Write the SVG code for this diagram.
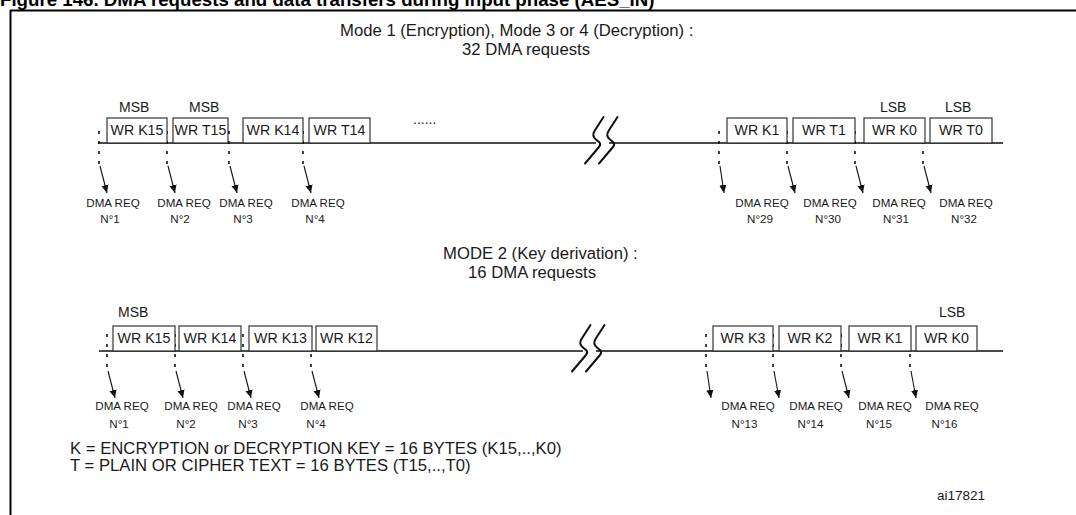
<svg xmlns="http://www.w3.org/2000/svg" width="1076" height="515" viewBox="0 0 1076 515">
<defs>
<style>
text{font-family:"Liberation Sans",Arial,sans-serif;fill:#1a1a1a}
.title{font-size:18.7px;font-weight:bold;fill:#000}
.hdr{font-size:16.7px}
.box rect{fill:#fff;stroke:#222;stroke-width:1.1}
.box text{font-size:14.2px;text-anchor:middle}
.sb{font-size:14px}
.req{font-size:11.6px;text-anchor:middle}
.axis{stroke:#111;stroke-width:1.4;fill:none}
.brk{stroke:#111;stroke-width:2;fill:none;stroke-linecap:round}
.dash{stroke:#111;stroke-width:1.6;stroke-dasharray:3 7}
.arr{stroke:#111;stroke-width:1.1;marker-end:url(#ah)}
</style>
<marker id="ah" viewBox="0 0 10 10" refX="10" refY="5" markerWidth="8" markerHeight="8" markerUnits="userSpaceOnUse" orient="auto">
<path d="M0,0.5 L10,5 L0,9.5 z" fill="#111"/>
</marker>
</defs>
<rect width="1076" height="515" fill="#fff"/>
<text class="title" x="0" y="6">Figure 146. DMA requests and data transfers during input phase (AES_IN)</text>
<path d="M10,10.5 H1076 M10.5,10 V515" stroke="#000" stroke-width="2" fill="none"/>

<g id="header1">
<text class="hdr" x="340" y="36">Mode 1 (Encryption), Mode 3 or 4 (Decryption) :</text>
<text class="hdr" x="462" y="55">32 DMA requests</text>
</g>
<g id="header2">
<text class="hdr" x="443" y="259">MODE 2 (Key derivation) :</text>
<text class="hdr" x="468" y="278">16 DMA requests</text>
</g>

<g id="labels-top">
<text class="sb" x="119" y="112">MSB</text>
<text class="sb" x="189" y="112">MSB</text>
<text class="sb" x="880" y="112">LSB</text>
<text class="sb" x="945" y="112">LSB</text>
<text class="sb" x="413" y="124">......</text>
</g>
<g id="labels-bottom">
<text class="sb" x="118" y="317">MSB</text>
<text class="sb" x="939" y="317">LSB</text>
</g>

<g id="connectors">
<path class="axis" d="M98,143 H596 M609,143 H1003"/>
<path class="brk" d="M603.5,117 L594.5,131 Q591.5,136 596,139.5 L599.5,142.5 Q601,144.5 599,147 L585,163.5"/>
<path class="brk" d="M617.5,117 L608.5,131 Q605.5,136 610,139.5 L613.5,142.5 Q615,144.5 613,147 L599,163.5"/>
<path class="axis" d="M99,351 H583 M596,351 H1003"/>
<path class="brk" d="M590.5,325 L581.5,339 Q578.5,344 583,347.5 L586.5,350.5 Q588,352.5 586,355 L572,371.5"/>
<path class="brk" d="M604.5,325 L595.5,339 Q592.5,344 597,347.5 L600.5,350.5 Q602,352.5 600,355 L586,371.5"/>
<g id="dashes-top">
<path class="dash" d="M99,131 V166 M167,131 V166 M229,131 V166 M303,131 V166 M719,131 V166 M787,131 V166 M855,131 V166 M923,131 V166"/>
</g>
<g id="arrows-top">
<line class="arr" x1="100" y1="166" x2="107" y2="193"/>
<line class="arr" x1="168" y1="166" x2="175" y2="193"/>
<line class="arr" x1="230" y1="166" x2="237" y2="193"/>
<line class="arr" x1="304" y1="166" x2="311" y2="193"/>
<line class="arr" x1="720" y1="166" x2="724" y2="193"/>
<line class="arr" x1="788" y1="166" x2="795" y2="193"/>
<line class="arr" x1="856" y1="166" x2="863" y2="193"/>
<line class="arr" x1="924" y1="166" x2="931" y2="193"/>
</g>
<g id="dashes-bottom">
<path class="dash" d="M107,334 V371 M175,334 V371 M243,334 V371 M311,334 V371 M706,334 V371 M773,334 V371 M841,334 V371 M910,334 V371"/>
</g>
<g id="arrows-bottom">
<line class="arr" x1="108" y1="371" x2="115" y2="398"/>
<line class="arr" x1="176" y1="371" x2="183" y2="398"/>
<line class="arr" x1="244" y1="371" x2="251" y2="398"/>
<line class="arr" x1="312" y1="371" x2="319" y2="398"/>
<line class="arr" x1="707" y1="371" x2="711" y2="398"/>
<line class="arr" x1="774" y1="371" x2="779" y2="398"/>
<line class="arr" x1="842" y1="371" x2="849" y2="398"/>
<line class="arr" x1="911" y1="371" x2="916" y2="398"/>
</g>
</g>

<g id="top-boxes">
<g id="t-k15" class="box"><rect x="107" y="118" width="60" height="25"/><text x="137" y="135">WR K15</text></g>
<g id="t-t15" class="box"><rect x="173" y="118" width="55" height="25"/><text x="200.5" y="135">WR T15</text></g>
<g id="t-k14" class="box"><rect x="243" y="118" width="60" height="25"/><text x="273" y="135">WR K14</text></g>
<g id="t-t14" class="box"><rect x="309" y="118" width="61" height="25"/><text x="339.5" y="135">WR T14</text></g>
<g id="t-k1" class="box"><rect x="727" y="118" width="60" height="25"/><text x="757" y="135">WR K1</text></g>
<g id="t-t1" class="box"><rect x="793" y="118" width="62" height="25"/><text x="824" y="135">WR T1</text></g>
<g id="t-k0" class="box"><rect x="864" y="118" width="61" height="25"/><text x="894.5" y="135">WR K0</text></g>
<g id="t-t0" class="box"><rect x="930" y="118" width="62" height="25"/><text x="961" y="135">WR T0</text></g>
</g>

<g id="bottom-boxes">
<g id="b-k15" class="box"><rect x="113" y="326" width="62" height="25"/><text x="144" y="343">WR K15</text></g>
<g id="b-k14" class="box"><rect x="179" y="326" width="62" height="25"/><text x="210" y="343">WR K14</text></g>
<g id="b-k13" class="box"><rect x="249" y="326" width="63" height="25"/><text x="280.5" y="343">WR K13</text></g>
<g id="b-k12" class="box"><rect x="316" y="326" width="61" height="25"/><text x="346.5" y="343">WR K12</text></g>
<g id="b-k3" class="box"><rect x="713" y="326" width="60" height="25"/><text x="743" y="343">WR K3</text></g>
<g id="b-k2" class="box"><rect x="779" y="326" width="62" height="25"/><text x="810" y="343">WR K2</text></g>
<g id="b-k1" class="box"><rect x="849" y="326" width="62" height="25"/><text x="880" y="343">WR K1</text></g>
<g id="b-k0" class="box"><rect x="916" y="326" width="61" height="25"/><text x="946.5" y="343">WR K0</text></g>
</g>

<g id="req-top">
<g id="rq1"><text class="req" x="113" y="207">DMA REQ</text><text class="req" x="110" y="223">N°1</text></g>
<g id="rq2"><text class="req" x="184" y="207">DMA REQ</text><text class="req" x="180" y="223">N°2</text></g>
<g id="rq3"><text class="req" x="246" y="207">DMA REQ</text><text class="req" x="243" y="223">N°3</text></g>
<g id="rq4"><text class="req" x="318" y="207">DMA REQ</text><text class="req" x="315" y="223">N°4</text></g>
<g id="rq29"><text class="req" x="762" y="207">DMA REQ</text><text class="req" x="760" y="223">N°29</text></g>
<g id="rq30"><text class="req" x="830" y="207">DMA REQ</text><text class="req" x="828" y="223">N°30</text></g>
<g id="rq31"><text class="req" x="899" y="207">DMA REQ</text><text class="req" x="896" y="223">N°31</text></g>
<g id="rq32"><text class="req" x="966" y="207">DMA REQ</text><text class="req" x="964" y="223">N°32</text></g>
</g>

<g id="req-bottom">
<g id="rb1"><text class="req" x="122" y="410">DMA REQ</text><text class="req" x="119" y="428">N°1</text></g>
<g id="rb2"><text class="req" x="191" y="410">DMA REQ</text><text class="req" x="186" y="428">N°2</text></g>
<g id="rb3"><text class="req" x="254" y="410">DMA REQ</text><text class="req" x="248" y="428">N°3</text></g>
<g id="rb4"><text class="req" x="327" y="410">DMA REQ</text><text class="req" x="316" y="428">N°4</text></g>
<g id="rb13"><text class="req" x="748" y="410">DMA REQ</text><text class="req" x="744.5" y="428">N°13</text></g>
<g id="rb14"><text class="req" x="816" y="410">DMA REQ</text><text class="req" x="810.5" y="428">N°14</text></g>
<g id="rb15"><text class="req" x="885" y="410">DMA REQ</text><text class="req" x="879" y="428">N°15</text></g>
<g id="rb16"><text class="req" x="952" y="410">DMA REQ</text><text class="req" x="944.5" y="428">N°16</text></g>
</g>

<g id="legend">
<text class="hdr" x="70" y="454">K = ENCRYPTION or DECRYPTION KEY = 16 BYTES (K15,..,K0)</text>
<text class="hdr" x="70" y="471">T = PLAIN OR CIPHER TEXT = 16 BYTES (T15,..,T0)</text>
<text x="937" y="500" style="font-size:13.5px">ai17821</text>
</g>
</svg>
